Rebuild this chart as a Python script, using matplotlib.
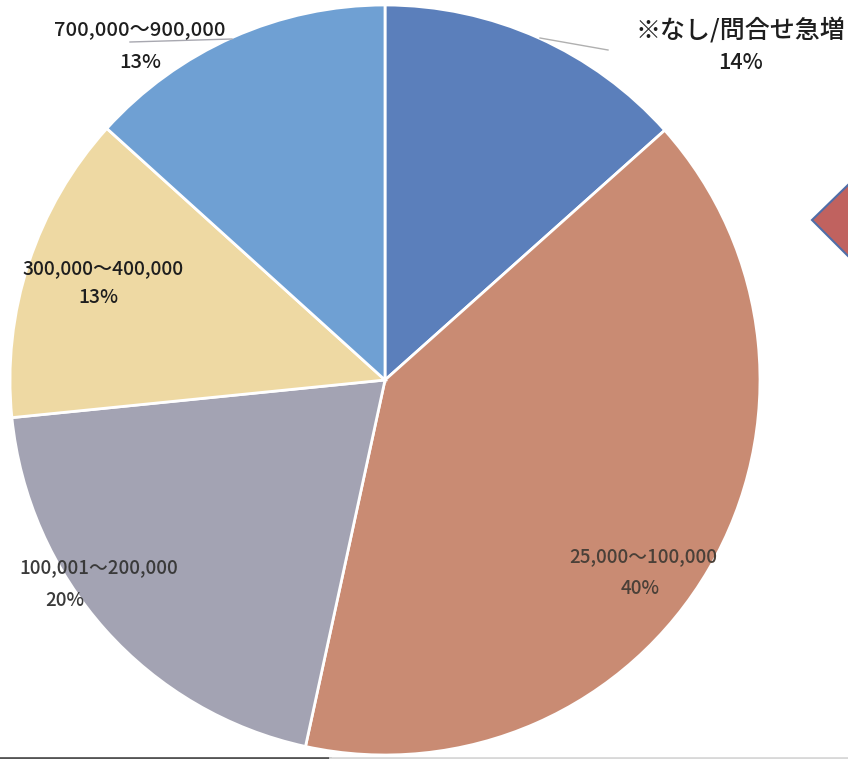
import matplotlib.pyplot as plt
from matplotlib.patches import Polygon

plt.rcParams['font.family'] = ['Noto Sans CJK JP', 'DejaVu Sans']

# Data (clockwise from 12 o'clock)
categories = ['※なし/問合せ急増', '25,000～100,000', '100,001～200,000',
              '300,000～400,000', '700,000～900,000']
values = [13.4, 40.0, 20.0, 13.3, 13.3]
pct_labels = ['14%', '40%', '20%', '13%', '13%']
colors = ['#5b7fbb', '#c98b73', '#a3a3b3', '#eed9a3', '#6fa0d3']

W, H = 848, 759
fig = plt.figure(figsize=(W / 100, H / 100), dpi=100)
ax = fig.add_axes([0, 0, 1, 1])

cx, cy, r = 385, H - 380, 375
ax.pie(values, colors=colors, startangle=90, counterclock=False,
       center=(cx, cy), radius=r, frame=True,
       wedgeprops=dict(edgecolor='white', linewidth=2))
ax.set_xlim(0, W)
ax.set_ylim(0, H)
ax.set_aspect('equal')
ax.axis('off')

# label positions (pixel coords, top-left origin)
label_pos = [(740, 30), (643, 557), (99, 568), (103, 268), (140, 30)]
pct_pos = [(740, 63), (640, 588), (65, 600), (98, 297), (140, 63)]
label_size = [18, 13.5, 13.5, 13.8, 14.5]
label_color = ['#1e1e1e', '#4a4038', '#3a3a3a', '#1e1e1e', '#1e1e1e']
for cat, pct, (lx, ly), (px, py), fs, c in zip(categories, pct_labels, label_pos,
                                               pct_pos, label_size, label_color):
    ax.text(lx, H - ly, cat, ha='center', va='center', fontsize=fs, color=c,
            fontweight='medium')
    ax.text(px, H - py, pct, ha='center', va='center', fontsize=min(fs, 15.5), color=c,
            fontweight='medium')

# faint leader lines
ax.plot([540, 608], [H - 38, H - 50], color='#b0b0b0', lw=1)
ax.plot([130, 232], [H - 42, H - 39], color='#a8a8b0', lw=1)

# partial red diamond at the right edge
ax.add_patch(Polygon([(812, H - 220), (850, H - 183), (888, H - 220), (850, H - 258)],
                     closed=True, facecolor='#c0625f', edgecolor='#4f6ea8', lw=1.5))

# dark strip along the bottom edge
ax.plot([0, 330], [1, 1], color='#555555', lw=2)
ax.plot([330, 848], [1, 1], color='#d8d8d8', lw=2)

fig.savefig('out.png', dpi=100)
